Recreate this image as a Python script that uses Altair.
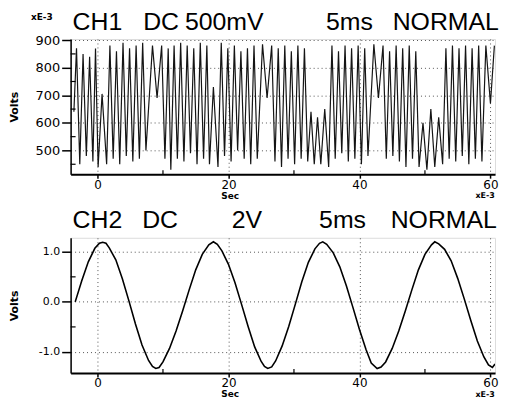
import altair as alt
import pandas as pd

# ---------------- data ----------------
# CH1: chaotic trace, vertices (time in ms, value in mV)
ch1_t = [-3.6, -3.2, -2.7, -2.2, -1.7, -1.2, -0.7, -0.3, 0.1, 0.7, 1.4, 1.9, 2.4, 2.9, 3.4, 3.9,
         4.4, 4.9, 5.4, 5.9, 6.4, 6.9, 7.4, 8.4, 9.1, 9.8, 10.3, 10.8, 11.2, 11.7, 12.2, 12.7,
         13.2, 13.7, 14.2, 14.7, 15.2, 15.7, 16.2, 16.7, 17.1, 17.7, 18.4, 18.9, 19.4, 19.9,
         20.4, 20.9, 21.4, 21.9, 22.4, 22.9, 23.4, 23.9, 24.4, 25.2, 25.9, 26.6, 27.1, 27.6,
         28.1, 28.6, 29.1, 29.6, 30.1, 30.6, 31.1, 31.6, 32.1, 32.6, 33.1, 33.6, 34.1, 34.7,
         35.3, 35.8, 36.3, 36.8, 37.3, 37.8, 38.3, 38.8, 39.3, 39.8, 40.3, 40.8, 41.3, 42.2,
         42.9, 43.6, 44.1, 44.6, 45.1, 45.6, 46.1, 46.6, 47.1, 47.6, 48.1, 48.6, 49.1, 49.7,
         50.3, 50.9, 51.5, 52.1, 52.7, 53.2, 53.7, 54.2, 54.7, 55.2, 55.7, 56.2, 56.7, 57.2,
         57.7, 58.2, 58.7, 59.3, 60.0, 60.6]
ch1_v = [640, 870, 450, 850, 480, 840, 460, 870, 440, 705, 450, 880, 470, 860, 450, 890,
         480, 870, 460, 880, 470, 890, 500, 880, 690, 880, 470, 870, 430, 880, 470, 890,
         460, 880, 490, 870, 450, 890, 470, 880, 450, 730, 440, 890, 480, 870,
         460, 880, 500, 860, 470, 870, 450, 880, 470, 885, 690, 880, 460, 870,
         440, 880, 470, 860, 450, 880, 470, 870, 460, 640, 450, 620, 450, 650,
         440, 880, 470, 860, 490, 880, 460, 870, 470, 880, 450, 870, 480, 885,
         690, 880, 470, 860, 480, 880, 460, 870, 440, 880, 470, 860, 440, 600,
         430, 650, 440, 620, 450, 870, 470, 880, 460, 870, 480, 880, 450, 870,
         470, 880, 460, 880, 670, 880]

# CH2: sine-like trace (time in ms, value in V)
ch2_t = [-3.4, -2.4, -1.4, -0.4, 0.3, 0.8, 1.3, 1.8, 2.8, 3.8, 4.8, 5.8, 6.8, 7.8, 8.4, 8.9, 9.4,
         10.0, 11.0, 12.0, 13.0, 14.0, 15.0, 16.0, 17.0, 17.7, 18.3, 19.0, 20.0, 21.0, 22.0,
         23.0, 24.0, 25.0, 25.5, 26.0, 26.6, 27.2, 28.2, 29.2, 30.2, 31.2, 32.2, 33.2, 33.9,
         34.4, 35.0, 36.0, 37.0, 38.0, 39.0, 40.0, 41.0, 41.8, 42.7, 43.3, 44.0, 45.0, 46.0,
         47.0, 48.0, 49.0, 50.0, 51.0, 51.5, 52.1, 53.0, 54.0, 55.0, 56.0, 57.0, 58.0, 59.0,
         59.7, 60.3, 60.7]
ch2_v = [0.0, 0.42, 0.80, 1.07, 1.17, 1.19, 1.17, 1.08, 0.84, 0.46, 0.02, -0.44, -0.86, -1.17,
         -1.29, -1.33, -1.31, -1.20, -0.93, -0.58, -0.18, 0.24, 0.64, 0.95, 1.14, 1.20, 1.15,
         1.02, 0.75, 0.38, -0.05, -0.49, -0.90, -1.19, -1.29, -1.33, -1.30, -1.18, -0.88,
         -0.49, -0.05, 0.40, 0.79, 1.06, 1.17, 1.20, 1.15, 0.98, 0.70, 0.32, -0.11, -0.55,
         -0.95, -1.22, -1.33, -1.30, -1.20, -0.93, -0.58, -0.18, 0.24, 0.64, 0.95, 1.14, 1.20,
         1.16, 1.05, 0.82, 0.47, 0.06, -0.37, -0.78, -1.10, -1.26, -1.31, -1.24]

x_major = [0, 20, 40, 60]
x_minor = [10, 30, 50]
ch1_y_major = [500, 600, 700, 800, 900]
ch1_y_minor = [450, 550, 650, 750, 850]
ch2_y_major = [-1.0, 0.0, 1.0]
ch2_y_minor = [-0.5, 0.5]

title1_words = ["CH1", "DC", "500mV", "5ms", "NORMAL"]
title2_words = ["CH2", "DC", "2V", "5ms", "NORMAL"]

# ---------------- layout / style ----------------
W, H = 427, 136
FONT = "DejaVu Sans"
TFONT = "Liberation Sans"
XDOM = [-4.1, 60.7]


def txt(s, x, y, size, weight="normal", font=TFONT, align="left", baseline="alphabetic"):
    return alt.Chart(alt.Data(values=[{"s": s}])).mark_text(
        text=s, font=font, fontSize=size, fontWeight=weight, align=align,
        baseline=baseline, color="black"
    ).encode(x=alt.value(x), y=alt.value(y))


def panel(t, v, ymaj, ymin, ydom, words, word_x, title_y, ylab_size, ylab_expr,
          stroke_w, color, xe_topleft):
    df = pd.DataFrame({"t": t, "v": v})
    xscale = alt.Scale(domain=XDOM, nice=False, zero=False)
    yscale = alt.Scale(domain=ydom, nice=False, zero=False)
    xaxis = alt.Axis(values=x_major, format="d", title="Sec", titleX=160, titleY=21,
                     titleBaseline="middle", titleFont=FONT, titleFontSize=9,
                     titleFontWeight="bold", titleColor="black",
                     labelFont=FONT, labelFontSize=12, labelColor="black", labelPadding=1,
                     tickSize=4, tickColor="black", tickWidth=1.5,
                     domainColor="black", domainWidth=2,
                     grid=True, gridColor="#555", gridDash=[1, 3], gridWidth=1)
    yaxis = alt.Axis(values=ymaj, labelExpr=ylab_expr, title="Volts", titleX=-56,
                     titleY=H / 2, titleAngle=270, titleBaseline="middle",
                     titleAlign="center", titleFont=FONT, titleFontSize=11,
                     titleFontWeight="bold", titleColor="black",
                     labelFont=FONT, labelFontSize=ylab_size, labelColor="black",
                     labelPadding=2, tickSize=9, tickColor="black", tickWidth=1.5,
                     domainColor="black", domainWidth=1.5,
                     grid=True, gridColor="#555", gridDash=[1, 3], gridWidth=1)
    line = alt.Chart(df).mark_line(color=color, strokeWidth=stroke_w, clip=True).encode(
        x=alt.X("t:Q", scale=xscale, axis=xaxis),
        y=alt.Y("v:Q", scale=yscale, axis=yaxis),
        order="t:Q",
    )
    yminor = alt.Chart(pd.DataFrame({"v": ymin})).mark_rule(color="black", strokeWidth=1.2).encode(
        y=alt.Y("v:Q", scale=yscale, axis=yaxis), x=alt.value(0), x2=alt.value(5))
    xminor = alt.Chart(pd.DataFrame({"t": x_minor})).mark_rule(color="black", strokeWidth=1.2).encode(
        x=alt.X("t:Q", scale=xscale, axis=xaxis), y=alt.value(H), y2=alt.value(H - 4))
    layers = [line, yminor, xminor]
    for w, xp in zip(words, word_x):
        layers.append(txt(w, xp, title_y, 25))
    layers.append(txt("xE-3", 417, H + 22, 8, weight="bold", font=FONT, align="center",
                      baseline="middle"))
    if xe_topleft:
        layers.append(txt("xE-3", -29, -22, 9, weight="bold", font=FONT, align="center",
                          baseline="middle"))
    return alt.layer(*layers).properties(width=W, height=H)


top = panel(ch1_t, ch1_v, ch1_y_major, ch1_y_minor, [414, 904], title1_words,
            [2, 73, 115, 257, 324], -9, 13, "format(datum.value, 'd')", 1.2, "#151515", True)
bottom = panel(ch2_t, ch2_v, ch2_y_major, ch2_y_minor, [-1.42, 1.28], title2_words,
               [2, 72, 162, 250, 322], -10, 11,
               "(datum.value < 0 ? '-' : '') + format(abs(datum.value), '.1f')",
               1.6, "black", False)

chart = alt.vconcat(top, bottom, spacing=64, bounds="flush").properties(
    padding={"left": 0, "top": 0, "right": 0, "bottom": 0}
).configure_view(strokeWidth=0).configure(background="white")

chart.save("out.html", embed_options={"renderer": "svg", "actions": False})
